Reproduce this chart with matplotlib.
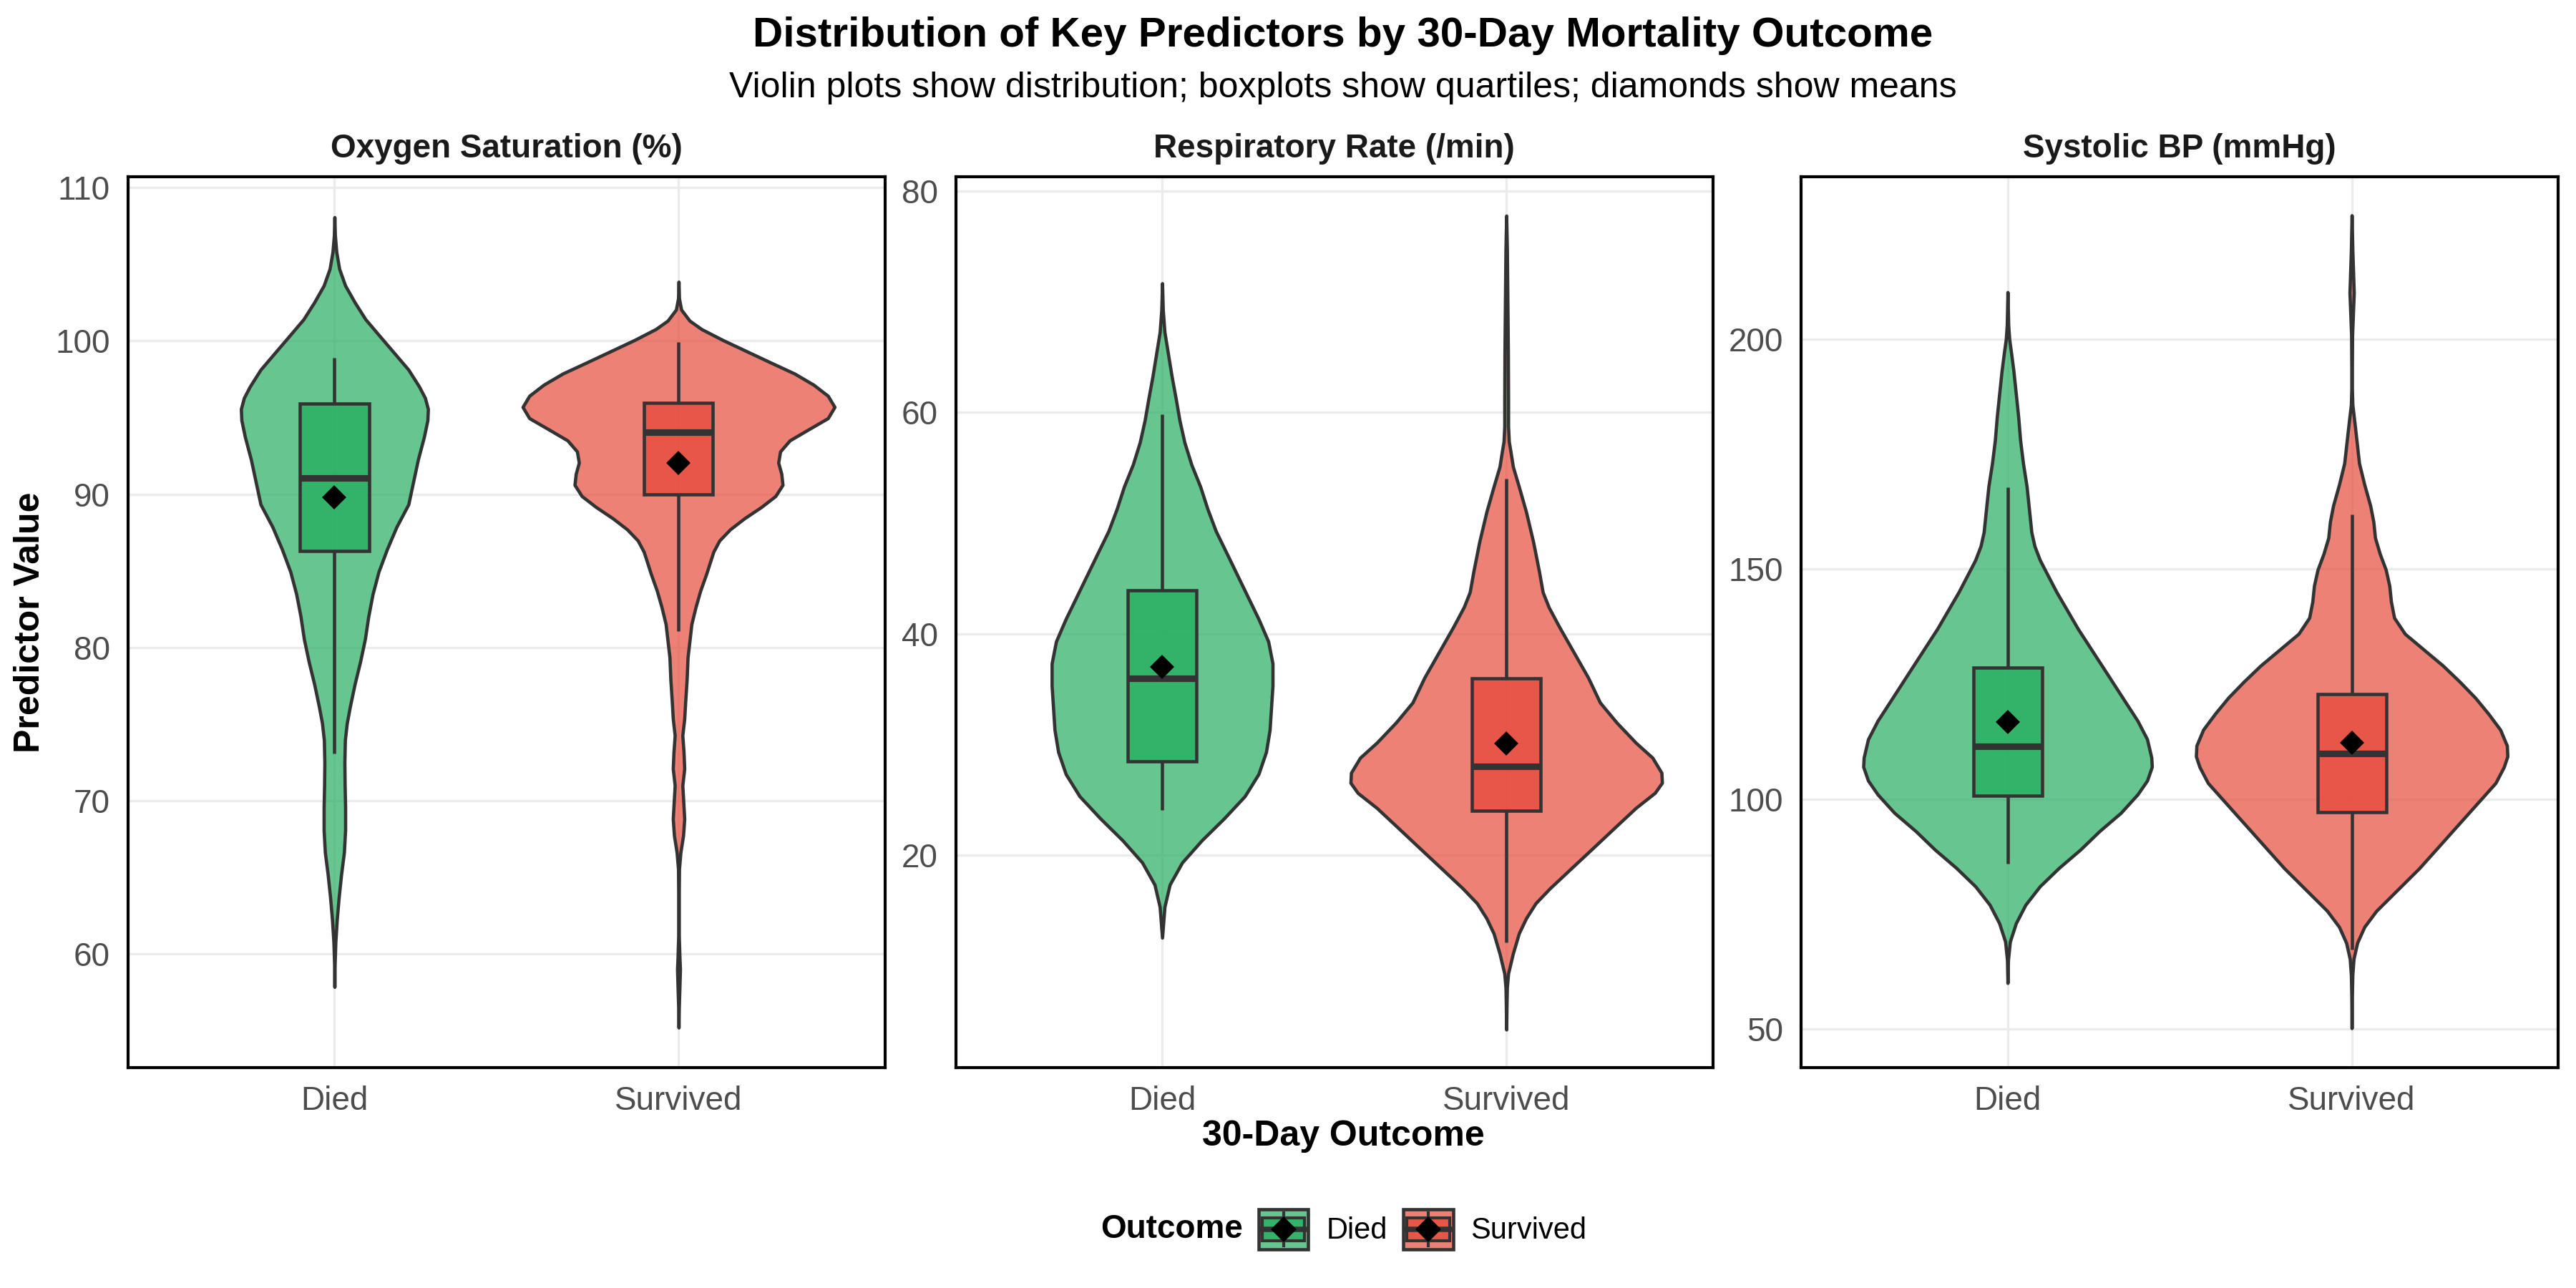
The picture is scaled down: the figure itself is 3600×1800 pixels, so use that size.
import matplotlib
matplotlib.use("Agg")
import matplotlib.pyplot as plt
from matplotlib.legend_handler import HandlerBase
from matplotlib.patches import Rectangle
from matplotlib.lines import Line2D
from matplotlib.colors import to_rgba

plt.rcParams['font.family'] = ['Liberation Sans', 'DejaVu Sans']

# groups and panels
outcomes = ["Died", "Survived"]
panel_titles = ["Oxygen Saturation (%)", "Respiratory Rate (/min)", "Systolic BP (mmHg)"]
panel_ylims = [(52.6, 110.7), (0.8, 81.3), (41.6, 235.3)]
panel_yticks = [[60, 70, 80, 90, 100, 110], [20, 40, 60, 80], [50, 100, 150, 200]]

# violin outlines: value levels and half widths (x units)
o2_died_y = [108.06, 106.89, 105.79, 104.69, 103.6, 102.5, 101.4, 100.3, 99.21, 98.11,
             97.01, 96.28, 95.55, 94.82, 93.72, 92.25, 90.79, 89.33, 87.86, 86.4,
             84.94, 83.47, 82.01, 80.55, 79.08, 77.62, 76.15, 75.06, 73.96, 72.5,
             71.03, 69.57, 68.1, 66.64, 65.18, 63.71, 62.25, 60.79, 59.32, 57.86]
o2_died_w = [0, 0.0014, 0.0055, 0.0139, 0.0312, 0.059, 0.0901, 0.1317, 0.1733, 0.215,
             0.246, 0.263, 0.2717, 0.2703, 0.26, 0.2426, 0.2287, 0.2148, 0.1802, 0.1525,
             0.1282, 0.1109, 0.0984, 0.0887, 0.0748, 0.0589, 0.0451, 0.036, 0.0305, 0.0291,
             0.0298, 0.0312, 0.0312, 0.0277, 0.0194, 0.0125, 0.0069, 0.0028, 0.0007, 0]
o2_surv_y = [103.85, 102.76, 102.03, 101.31, 100.76, 100.04, 99.31, 98.58, 97.86, 97.13,
             96.41, 95.68, 94.95, 94.23, 93.5, 92.78, 92.05, 91.32, 90.6, 89.87,
             89.15, 88.42, 87.7, 86.97, 86.24, 85.52, 84.79, 83.7, 82.61, 81.52,
             80.44, 79.35, 77.9, 76.44, 75.35, 74.26, 73.18, 72.09, 71.0, 69.91,
             68.82, 67.73, 66.64, 65.55, 64.1, 61.2, 59.75, 59.02, 57.93, 56.48, 55.21]
o2_surv_w = [0, 0.0014, 0.0076, 0.0319, 0.0665, 0.1289, 0.1982, 0.2675, 0.3368, 0.3922,
             0.4338, 0.4532, 0.4338, 0.3784, 0.3229, 0.2952, 0.2897, 0.2987, 0.3022, 0.2814,
             0.2398, 0.1913, 0.1497, 0.1185, 0.1012, 0.0908, 0.0804, 0.0631, 0.0492, 0.0374,
             0.0319, 0.0263, 0.0236, 0.0194, 0.0166, 0.0111, 0.0146, 0.0166, 0.0111, 0.0139,
             0.0166, 0.0132, 0.0055, 0.0014, 0.0008, 0.0008, 0.0028, 0.0042, 0.0028, 0.0008, 0]

rr_died_y = [71.67, 69.27, 67.27, 65.27, 63.28, 61.28, 59.28, 57.28, 55.29, 53.29,
             51.29, 49.29, 47.3, 45.3, 43.3, 41.3, 39.3, 37.31, 35.31, 33.31,
             31.31, 29.32, 27.32, 25.32, 23.32, 21.33, 19.33, 17.33, 15.33, 12.54]
rr_died_w = [0, 0.0021, 0.0069, 0.0173, 0.0277, 0.0395, 0.0506, 0.065, 0.085, 0.1109,
             0.1317, 0.1559, 0.1871, 0.2183, 0.2495, 0.2807, 0.3084, 0.3209, 0.3209, 0.3167,
             0.3125, 0.302, 0.28, 0.24, 0.18, 0.115, 0.058, 0.022, 0.007, 0]
rr_surv_y = [77.78, 74.6, 70.07, 65.53, 61.0, 58.73, 57.37, 56.46, 55.1, 53.29,
             51.02, 48.3, 45.58, 43.76, 42.4, 40.59, 38.32, 36.05, 33.79, 31.97,
             30.16, 28.8, 27.44, 26.53, 25.62, 24.26, 22.45, 20.63, 18.82, 17.0,
             15.65, 14.29, 12.93, 11.11, 9.3, 8.03, 6.5, 4.24]
rr_surv_w = [0, 0.0021, 0.0035, 0.0049, 0.0055, 0.0055, 0.0076, 0.0125, 0.0194, 0.0367,
             0.0575, 0.0783, 0.0956, 0.106, 0.1234, 0.1545, 0.1961, 0.2377, 0.2723, 0.3209,
             0.3763, 0.4248, 0.4511, 0.4525, 0.4317, 0.3763, 0.3139, 0.2516, 0.1892, 0.1268,
             0.0852, 0.0575, 0.0367, 0.0194, 0.0055, 0.002, 0.001, 0]

bp_died_y = [210.2, 203, 200, 197, 193, 188, 183, 178, 173, 168,
             163, 158, 155, 152, 149, 145, 141, 137, 133, 129,
             125, 121, 117, 113, 109, 107, 104, 101, 97, 93,
             89, 85, 81, 77, 73, 69, 65, 60]
bp_died_w = [0, 0.0021, 0.0049, 0.0104, 0.0173, 0.0243, 0.0312, 0.0367, 0.045, 0.0554,
             0.0624, 0.0693, 0.0783, 0.0936, 0.1143, 0.1421, 0.1733, 0.2044, 0.2391, 0.2738,
             0.3084, 0.343, 0.3777, 0.4054, 0.4179, 0.4193, 0.4054, 0.3777, 0.3292, 0.2668,
             0.2114, 0.149, 0.0936, 0.052, 0.0243, 0.0069, 0.0014, 0]
bp_surv_y = [226.9, 219.35, 210.08, 200.81, 193.86, 189.22, 185.75, 182.27, 177.64, 173.0,
             168.37, 163.73, 160.26, 156.78, 153.3, 149.83, 146.35, 142.87, 139.4, 135.92,
             132.44, 128.97, 125.49, 122.01, 118.54, 115.06, 111.59, 109.27, 106.95, 103.48,
             100.0, 96.52, 93.05, 89.57, 84.94, 80.3, 75.67, 72.19, 68.71, 65.24,
             61.76, 57.13, 50.17]
bp_surv_w = [0, 0.0021, 0.0062, 0.0014, 0.0008, 0.0008, 0.0021, 0.0076, 0.0146, 0.0215,
             0.0367, 0.0541, 0.0631, 0.0679, 0.0818, 0.0991, 0.1095, 0.1143, 0.1234, 0.1545,
             0.21, 0.2654, 0.3139, 0.359, 0.3971, 0.4317, 0.4511, 0.4525, 0.4421, 0.4179,
             0.3763, 0.3347, 0.2931, 0.2516, 0.1961, 0.1337, 0.0714, 0.0367, 0.0159, 0.0055,
             0.0021, 0.0008, 0]

# box stats: [lower whisker, q1, median, q3, upper whisker], then means
o2_box = [[73.1, 86.3, 91.05, 95.9, 98.9], [81.05, 90.0, 94.05, 95.93, 99.93]]
rr_box = [[24.1, 28.5, 36.0, 43.9, 59.8], [12.1, 24.0, 28.0, 36.0, 54.0]]
bp_box = [[86.0, 100.7, 111.5, 128.5, 167.8], [67.2, 97.1, 109.85, 122.8, 161.8]]
o2_mean = [89.77, 92.05]
rr_mean = [37.0, 30.07]
bp_mean = [116.8, 112.2]

violins = [[(o2_died_y, o2_died_w), (o2_surv_y, o2_surv_w)],
           [(rr_died_y, rr_died_w), (rr_surv_y, rr_surv_w)],
           [(bp_died_y, bp_died_w), (bp_surv_y, bp_surv_w)]]
boxes = [o2_box, rr_box, bp_box]
means = [o2_mean, rr_mean, bp_mean]

colors = ["#27AE60", "#E74C3C"]
outline = "#333333"
lw = 1.1

fig = plt.figure(figsize=(12, 6), dpi=300)
lefts = [0.0497, 0.3710, 0.6992]
axw, bot, axh = 0.2939, 0.1711, 0.6917

for i in range(3):
    ax = fig.add_axes([lefts[i], bot, axw, axh])
    for j, name in enumerate(outcomes):
        pos = j + 1
        vy, vw = violins[i][j]
        ax.fill_betweenx(vy, [pos - w for w in vw], [pos + w for w in vw],
                         facecolor=to_rgba(colors[j], 0.7), edgecolor=outline, lw=lw,
                         joinstyle='round', zorder=2)
        lo, q1, med, q3, hi = boxes[i][j]
        ax.plot([pos, pos], [q3, hi], color=outline, lw=lw, zorder=3, solid_capstyle='butt')
        ax.plot([pos, pos], [lo, q1], color=outline, lw=lw, zorder=3, solid_capstyle='butt')
        ax.add_patch(Rectangle((pos - 0.1, q1), 0.2, q3 - q1, facecolor=to_rgba(colors[j], 0.8),
                               edgecolor=outline, lw=lw, zorder=3))
        ax.plot([pos - 0.1, pos + 0.1], [med, med], color=outline, lw=lw * 2, zorder=4,
                solid_capstyle='butt')
        ax.plot([pos], [means[i][j]], marker='D', ms=4.8, color='black', zorder=5)
    ax.set_xlim(0.4, 2.6)
    ax.set_ylim(*panel_ylims[i])
    ax.set_xticks([1, 2])
    ax.set_xticklabels(outcomes)
    ax.set_yticks(panel_yticks[i])
    ax.tick_params(length=0, pad=6, labelsize=11, labelcolor="#4D4D4D")
    ax.grid(True, color="#EBEBEB", lw=0.8)
    ax.set_axisbelow(True)
    for s in ax.spines.values():
        s.set_color("black")
        s.set_linewidth(1.0)
    ax.set_title(panel_titles[i], fontsize=11, fontweight='bold', pad=6.5, color="#1A1A1A")

fig.text(0.5214, 0.9639, "Distribution of Key Predictors by 30-Day Mortality Outcome",
         ha='center', va='baseline', fontsize=14, fontweight='bold')
fig.text(0.5214, 0.9244, "Violin plots show distribution; boxplots show quartiles; diamonds show means",
         ha='center', va='baseline', fontsize=12)
fig.text(0.5214, 0.1105, "30-Day Outcome", ha='center', va='baseline', fontsize=12, fontweight='bold')
fig.text(0.0117, 0.517, "Predictor Value", ha='center', va='center', rotation=90,
         fontsize=12, fontweight='bold')


class KeyHandler(HandlerBase):
    def __init__(self, color):
        super().__init__()
        self.color = color

    def create_artists(self, legend, orig_handle, xdescent, ydescent, width, height, fontsize, trans):
        x0, y0 = -xdescent, -ydescent
        cx, cy = x0 + width / 2, y0 + height / 2
        bg = Rectangle((x0, y0), width, height, facecolor=to_rgba(self.color, 0.7),
                       edgecolor=outline, lw=1.1, transform=trans)
        wh = Line2D([cx, cx], [y0 + 0.08 * height, y0 + 0.92 * height], color=outline, lw=1.0,
                    transform=trans)
        bx = Rectangle((x0 + 0.07 * width, y0 + 0.22 * height), 0.86 * width, 0.56 * height,
                       facecolor=to_rgba(self.color, 0.8), edgecolor=outline, lw=1.0, transform=trans)
        md = Line2D([x0 + 0.07 * width, x0 + 0.93 * width], [cy, cy], color=outline, lw=1.8,
                    transform=trans)
        dm = Line2D([cx], [cy], marker='D', ms=5, color='black', transform=trans)
        return [bg, wh, bx, md, dm]


h_died = Rectangle((0, 0), 1, 1)
h_surv = Rectangle((0, 0), 1, 1)
fig.text(0.4272, 0.0456, "Outcome", ha='left', va='center', fontsize=11, fontweight='bold')
fig.legend([h_died, h_surv], outcomes, ncol=2, frameon=False, fontsize=10,
           handlelength=1.66, handleheight=1.68, handletextpad=0.6, columnspacing=0.55,
           borderpad=0, borderaxespad=0, loc='center left',
           bbox_to_anchor=(0.4886, 0.0456), bbox_transform=fig.transFigure,
           handler_map={h_died: KeyHandler(colors[0]), h_surv: KeyHandler(colors[1])})

fig.savefig("out.png", dpi=300)
